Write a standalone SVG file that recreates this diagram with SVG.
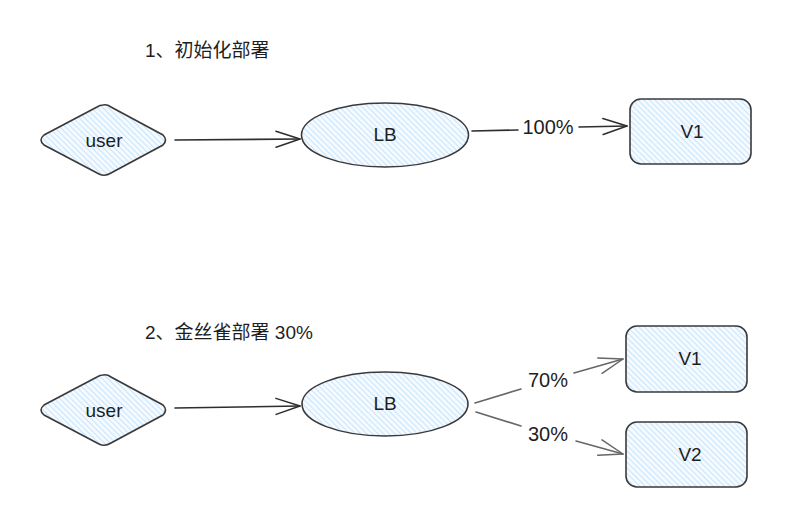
<svg xmlns="http://www.w3.org/2000/svg" width="791" height="519" viewBox="0 0 791 519">
<defs>
<pattern id="hatch" patternUnits="userSpaceOnUse" width="4" height="4" patternTransform="rotate(-45)">
<rect width="4" height="4" fill="#f4faff"/>
<line x1="0" y1="0" x2="0" y2="4" stroke="#b3dcfb" stroke-width="1.4"/>
</pattern>
<marker id="arr" markerUnits="userSpaceOnUse" markerWidth="30" markerHeight="24" refX="25" refY="10" orient="auto">
<path d="M1,2 L25,10 L1,18" fill="none" stroke="context-stroke" stroke-width="1.5" stroke-linecap="round" stroke-linejoin="round"/>
</marker>
<style>
.shape{fill:url(#hatch);stroke:#3a3a3a;stroke-width:1.6;}
.lbl{font-family:"Liberation Sans","Noto Sans CJK SC",sans-serif;font-size:19px;fill:#1e1e1e;text-anchor:middle;dominant-baseline:central;}
.title{font-family:"Liberation Sans","Noto Sans CJK SC",sans-serif;font-size:19px;fill:#1e1e1e;}
.edge{fill:none;stroke-width:1.6;stroke-linecap:round;}
.elbl{font-family:"Liberation Sans",sans-serif;font-size:20px;fill:#1e1e1e;text-anchor:middle;dominant-baseline:central;}
</style>
</defs>
<rect width="791" height="519" fill="#ffffff"/>

<g id="title1"><text class="title" x="145" y="57">1、初始化部署</text></g>
<g id="title2"><text class="title" x="145" y="339">2、金丝雀部署 30%</text></g>

<g id="connectors">
<path class="edge" stroke="#2e2e2e" d="M175,140 L300,139" marker-end="url(#arr)"/>
<path class="edge" stroke="#2e2e2e" d="M472,131 L518,130"/>
<path class="edge" stroke="#2e2e2e" d="M579,127 L627,126" marker-end="url(#arr)"/>
<text class="elbl" x="548" y="127">100%</text>

<path class="edge" stroke="#2e2e2e" d="M175,408 L300,406" marker-end="url(#arr)"/>
<path class="edge" stroke="#666" d="M475,403 L521,389"/>
<path class="edge" stroke="#666" d="M574,373 L623,359" marker-end="url(#arr)"/>
<text class="elbl" x="548" y="380">70%</text>
<path class="edge" stroke="#666" d="M476,412 L521,426"/>
<path class="edge" stroke="#666" d="M576,441 L623,454" marker-end="url(#arr)"/>
<text class="elbl" x="548" y="434">30%</text>
</g>

<g id="user1">
<path class="shape" d="M103,105 Q107,104 111,107 L163,135 Q168,140 163,145 L111,173 Q105,177 99,174 L44,145 Q38,140 44,135 L97,107 Q100,105 103,105 Z"/>
<text class="lbl" x="104" y="140">user</text>
</g>
<g id="lb1">
<ellipse class="shape" cx="385" cy="135" rx="83.5" ry="32"/>
<text class="lbl" x="385" y="134">LB</text>
</g>
<g id="v1a">
<rect class="shape" x="630" y="99" width="121" height="65" rx="11"/>
<text class="lbl" x="692" y="131">V1</text>
</g>

<g id="user2">
<path class="shape" d="M103,375 Q107,374 111,377 L163,405 Q168,410 163,415 L111,443 Q105,447 99,444 L44,415 Q38,410 44,405 L97,377 Q100,375 103,375 Z"/>
<text class="lbl" x="104" y="410">user</text>
</g>
<g id="lb2">
<ellipse class="shape" cx="385" cy="404" rx="83" ry="32"/>
<text class="lbl" x="385" y="403">LB</text>
</g>
<g id="v1b">
<rect class="shape" x="626" y="326" width="121" height="66" rx="11"/>
<text class="lbl" x="690" y="358">V1</text>
</g>
<g id="v2">
<rect class="shape" x="626" y="422" width="121" height="65" rx="11"/>
<text class="lbl" x="690" y="454">V2</text>
</g>
</svg>
